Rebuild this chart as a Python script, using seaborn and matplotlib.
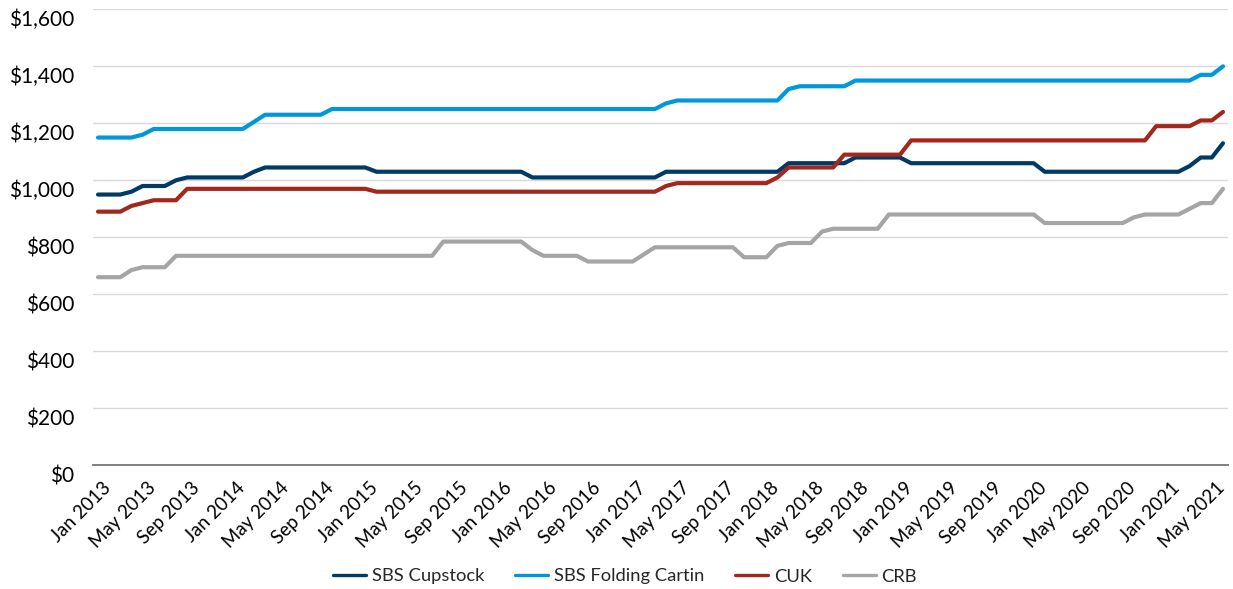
import matplotlib
matplotlib.use("Agg")
import matplotlib.pyplot as plt
import matplotlib.ticker as mticker
from matplotlib.lines import Line2D
from matplotlib.transforms import ScaledTranslation
import numpy as np
import pandas as pd
import seaborn as sns

# Monthly board prices, $/ton, Jan 2013 - Jun 2021
months = pd.date_range("2013-01-01", periods=102, freq="MS")

sbs_cupstock = [
    950, 950, 950, 960, 980, 980, 980, 1000, 1010, 1010,
    1010, 1010, 1010, 1010, 1030, 1045, 1045, 1045, 1045, 1045,
    1045, 1045, 1045, 1045, 1045, 1030, 1030, 1030, 1030, 1030,
    1030, 1030, 1030, 1030, 1030, 1030, 1030, 1030, 1030, 1010,
    1010, 1010, 1010, 1010, 1010, 1010, 1010, 1010, 1010, 1010,
    1010, 1030, 1030, 1030, 1030, 1030, 1030, 1030, 1030, 1030,
    1030, 1030, 1060, 1060, 1060, 1060, 1060, 1060, 1080, 1080,
    1080, 1080, 1080, 1060, 1060, 1060, 1060, 1060, 1060, 1060,
    1060, 1060, 1060, 1060, 1060, 1030, 1030, 1030, 1030, 1030,
    1030, 1030, 1030, 1030, 1030, 1030, 1030, 1030, 1050, 1080,
    1080, 1130,
]

sbs_folding = [
    1150, 1150, 1150, 1150, 1160, 1180, 1180, 1180, 1180, 1180,
    1180, 1180, 1180, 1180, 1205, 1230, 1230, 1230, 1230, 1230,
    1230, 1250, 1250, 1250, 1250, 1250, 1250, 1250, 1250, 1250,
    1250, 1250, 1250, 1250, 1250, 1250, 1250, 1250, 1250, 1250,
    1250, 1250, 1250, 1250, 1250, 1250, 1250, 1250, 1250, 1250,
    1250, 1270, 1280, 1280, 1280, 1280, 1280, 1280, 1280, 1280,
    1280, 1280, 1320, 1330, 1330, 1330, 1330, 1330, 1350, 1350,
    1350, 1350, 1350, 1350, 1350, 1350, 1350, 1350, 1350, 1350,
    1350, 1350, 1350, 1350, 1350, 1350, 1350, 1350, 1350, 1350,
    1350, 1350, 1350, 1350, 1350, 1350, 1350, 1350, 1350, 1370,
    1370, 1400,
]

cuk = [
    890, 890, 890, 910, 920, 930, 930, 930, 970, 970,
    970, 970, 970, 970, 970, 970, 970, 970, 970, 970,
    970, 970, 970, 970, 970, 960, 960, 960, 960, 960,
    960, 960, 960, 960, 960, 960, 960, 960, 960, 960,
    960, 960, 960, 960, 960, 960, 960, 960, 960, 960,
    960, 980, 990, 990, 990, 990, 990, 990, 990, 990,
    990, 1010, 1045, 1045, 1045, 1045, 1045, 1090, 1090, 1090,
    1090, 1090, 1090, 1140, 1140, 1140, 1140, 1140, 1140, 1140,
    1140, 1140, 1140, 1140, 1140, 1140, 1140, 1140, 1140, 1140,
    1140, 1140, 1140, 1140, 1140, 1190, 1190, 1190, 1190, 1210,
    1210, 1240,
]

crb = [
    660, 660, 660, 685, 695, 695, 695, 735, 735, 735,
    735, 735, 735, 735, 735, 735, 735, 735, 735, 735,
    735, 735, 735, 735, 735, 735, 735, 735, 735, 735,
    735, 785, 785, 785, 785, 785, 785, 785, 785, 755,
    735, 735, 735, 735, 715, 715, 715, 715, 715, 740,
    765, 765, 765, 765, 765, 765, 765, 765, 730, 730,
    730, 770, 780, 780, 780, 820, 830, 830, 830, 830,
    830, 880, 880, 880, 880, 880, 880, 880, 880, 880,
    880, 880, 880, 880, 880, 850, 850, 850, 850, 850,
    850, 850, 850, 870, 880, 880, 880, 880, 900, 920,
    920, 970,
]

series_names = ["SBS Cupstock", "SBS Folding Cartin", "CUK", "CRB"]
series_values = [sbs_cupstock, sbs_folding, cuk, crb]
series_colors = ["#003A66", "#0098DA", "#A3271C", "#A5A5A5"]

frames = []
for name, vals in zip(series_names, series_values):
    frames.append(pd.DataFrame({"pos": np.arange(len(months)),
                                "price": vals, "grade": name}))
df = pd.concat(frames, ignore_index=True)

sns.set_theme(style="white")
plt.rcParams["font.family"] = ["Lato", "DejaVu Sans"]

W, H = 1233, 589
fig = plt.figure(figsize=(W / 100, H / 100), dpi=100)
ax = fig.add_axes([93 / W, 1 - 465.3 / H, (1228 - 93) / W, (465.3 - 9.3) / H])

palette = dict(zip(series_names, series_colors))
sns.lineplot(data=df, x="pos", y="price", hue="grade", palette=palette,
             linewidth=3, ax=ax, legend=False, solid_capstyle="round")

ax.set_xlim(-0.45, len(months) - 1 + 0.45)
ax.set_ylim(0, 1600)
ax.set_yticks(np.arange(0, 1601, 200))
ax.yaxis.set_major_formatter(mticker.FuncFormatter(lambda v, _: f"${v:,.0f}"))

tick_pos = np.arange(0, len(months), 4)
tick_labels = [months[i].strftime("%b %Y") for i in tick_pos]
ax.set_xticks(tick_pos)
ax.set_xticklabels(tick_labels, rotation=45, ha="right", va="baseline",
                   rotation_mode="anchor")

ax.set_xlabel("")
ax.set_ylabel("")
ax.tick_params(axis="both", length=0, colors="#000000")
ax.tick_params(axis="y", pad=13.5, labelsize=15)
ax.tick_params(axis="x", pad=17, labelsize=13.5)

# nudge labels: y labels sit a little below their gridlines,
# date labels end slightly right of their month
for lab in ax.get_yticklabels():
    lab.set_transform(lab.get_transform()
                      + ScaledTranslation(0, -9 / 100, fig.dpi_scale_trans))
for lab in ax.get_xticklabels():
    lab.set_transform(lab.get_transform()
                      + ScaledTranslation(14 / 100, 0, fig.dpi_scale_trans))

ax.yaxis.grid(True, color="#D9D9D9", linewidth=1)
ax.xaxis.grid(False)
ax.set_axisbelow(True)
for side in ["top", "right", "left"]:
    ax.spines[side].set_visible(False)
ax.spines["bottom"].set_color("#808080")
ax.spines["bottom"].set_linewidth(1.4)

handles = [Line2D([0], [0], color=c, linewidth=2.4) for c in series_colors]
fig.legend(handles, series_names, loc="center", ncol=4, frameon=False,
           bbox_to_anchor=(0.507, 1 - 576.5 / H), fontsize=13.2,
           handlelength=1.8, handletextpad=0.3, columnspacing=1.7)

fig.savefig("out.png", dpi=100)
